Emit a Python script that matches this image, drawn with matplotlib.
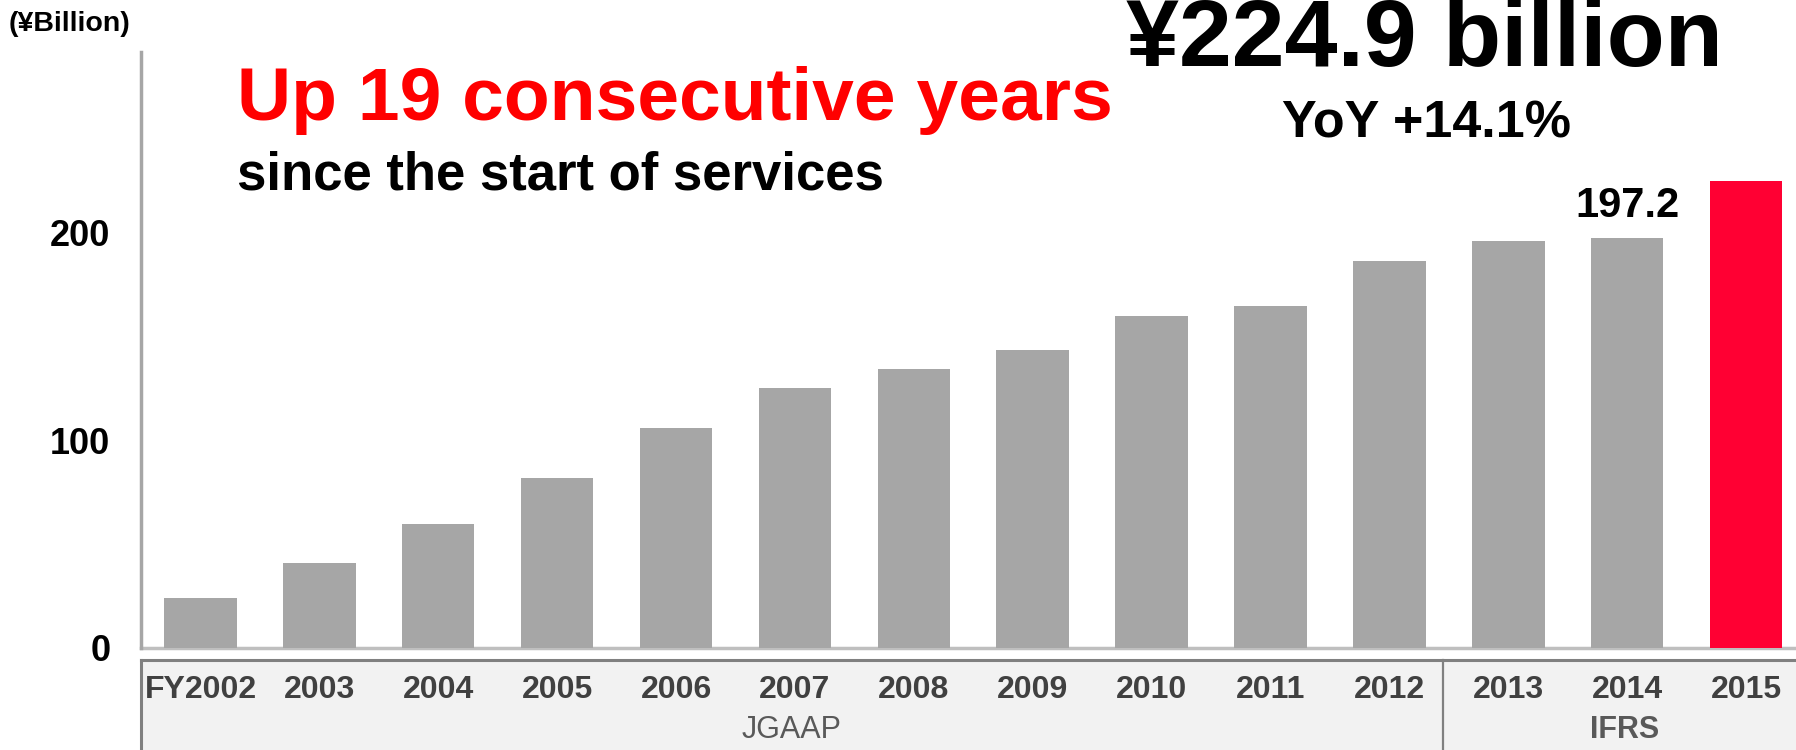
import matplotlib
matplotlib.use("Agg")
import matplotlib.pyplot as plt
import matplotlib.transforms as mtransforms
from matplotlib.patches import Rectangle
from matplotlib.lines import Line2D

years = ["FY2002", "2003", "2004", "2005", "2006", "2007", "2008", "2009",
         "2010", "2011", "2012", "2013", "2014", "2015"]
values = [23.8, 40.9, 59.7, 81.8, 106.0, 124.9, 134.3, 143.6,
          159.7, 164.6, 186.2, 196.1, 197.2, 224.9]
yticks = [0, 100, 200]
standards = ["JGAAP", "IFRS"]

W, H = 1796, 750
plt.rcParams['font.family'] = ['Liberation Sans', 'DejaVu Sans']
fig = plt.figure(figsize=(W / 100, H / 100), dpi=100)

def fx(px):
    return px / W

def fy(py):
    return 1 - py / H

ax = fig.add_axes([fx(141), fy(647.5), (1805.5 - 141) / W, (647.5 - 52) / H])
ax.set_zorder(2)
ax.patch.set_alpha(0)
x = list(range(len(years)))
colors = ["#a6a6a6"] * (len(years) - 1) + ["#ff0033"]
ax.bar(x, values, width=0.61, color=colors, zorder=3)
ax.set_xlim(-0.5, len(years) - 0.5)
ax.set_ylim(0, 287)

for s in ["top", "right"]:
    ax.spines[s].set_visible(False)
ax.spines["left"].set_color("#a6a6a6")
ax.spines["left"].set_linewidth(2.5)
ax.spines["bottom"].set_color("#bfbfbf")
ax.spines["bottom"].set_linewidth(2.5)
ax.spines["bottom"].set_zorder(2)

ax.set_yticks(yticks)
ax.set_yticklabels([str(v) for v in yticks], fontsize=26, fontweight="bold", color="black")
ax.tick_params(axis="y", length=0, pad=22)
ax.set_xticks(x)
ax.set_xticklabels(years, fontsize=23, fontweight="bold", color="#404040")
ax.tick_params(axis="x", length=0, pad=20)

# Accounting standard band below axis
trans = mtransforms.blended_transform_factory(ax.transData, fig.transFigure)
div = 10.45
band_top = fy(660)
fig.patches.append(Rectangle((-0.5, 0), len(years), band_top, transform=trans,
                             facecolor="#f2f2f2", edgecolor="none", zorder=0))
fig.lines.append(Line2D([-0.5, len(years) - 0.5], [band_top, band_top], transform=trans,
                        color="#808080", linewidth=2.2))
fig.lines.append(Line2D([-0.5, -0.5], [0, band_top], transform=trans,
                        color="#808080", linewidth=2.2))
fig.lines.append(Line2D([div, div], [0, band_top], transform=trans,
                        color="#808080", linewidth=1.6))
fig.text((-0.5 + div) / 2, fy(730), standards[0], transform=trans, ha="center", va="center",
         fontsize=22, color="#595959")
fig.text((div + len(years) - 0.5) / 2, fy(730), standards[1], transform=trans, ha="center",
         va="center", fontsize=22, fontweight="bold", color="#595959")

# Label on 2014 bar
ax.annotate(f"{values[-2]:.1f}", (x[-2], values[-2]), xytext=(0, 15), textcoords="offset points",
            ha="center", va="baseline", fontsize=30, fontweight="bold", color="black")

# Texts
fig.text(fx(9), fy(31), "(¥Billion)", fontsize=20.5, fontweight="bold", va="baseline")
fig.text(fx(237), fy(120), "Up 19 consecutive years", fontsize=54, fontweight="bold",
         color="#ff0000", va="baseline")
fig.text(fx(237), fy(189), "since the start of services", fontsize=38, fontweight="bold",
         color="black", va="baseline")
fig.text(fx(1126), fy(66), "¥224.9 billion", fontsize=68.5, fontweight="bold",
         color="black", va="baseline")
fig.text(fx(1426), fy(138), "YoY +14.1%", fontsize=37.5, fontweight="bold",
         color="black", va="baseline", ha="center")

fig.savefig("out.png", dpi=100)
